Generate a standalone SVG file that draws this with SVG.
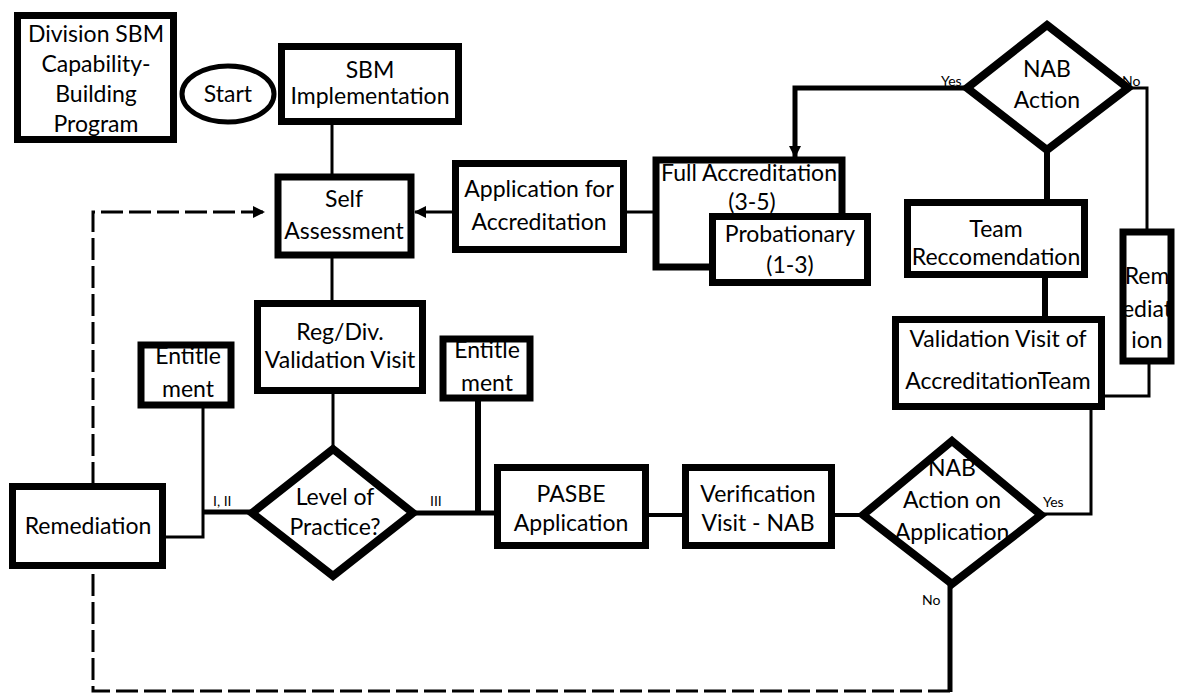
<svg xmlns="http://www.w3.org/2000/svg" width="1179" height="695" viewBox="0 0 1179 695">
<style>
.box{fill:#fff;stroke:#000;stroke-width:7}
.dia{fill:#fff;stroke:#000;stroke-width:8;stroke-linejoin:miter}
.t{font-family:Lato,"Liberation Sans",sans-serif;font-size:23px;fill:#000;text-anchor:middle}
.s{font-family:Lato,"Liberation Sans",sans-serif;font-size:14px;fill:#000}
.c{fill:none;stroke:#000}
</style>
<defs>
<marker id="ah" markerUnits="userSpaceOnUse" markerWidth="12" markerHeight="12" refX="11" refY="6" orient="auto">
<path d="M0,0 L12,6 L0,12 z" fill="#000"/>
</marker>
</defs>
<rect width="1179" height="695" fill="#fff"/>
<g id="connectors">
<polyline class="c" points="950,691 93,691 93,212 264,212" stroke-width="3" stroke-dasharray="22,6" marker-end="url(#ah)"/>
<line class="c" x1="332" y1="125" x2="332" y2="174" stroke-width="3"/>
<line class="c" x1="332" y1="258" x2="332" y2="300" stroke-width="3"/>
<line class="c" x1="333" y1="394" x2="333" y2="449" stroke-width="3"/>
<line class="c" x1="452" y1="212" x2="415" y2="212" stroke-width="3" marker-end="url(#ah)"/>
<line class="c" x1="627" y1="212" x2="653" y2="212" stroke-width="3"/>
<polyline class="c" points="967,88 795,88 795,157" stroke-width="5" marker-end="url(#ah)"/>
<polyline class="c" points="1128,88 1147,88 1147,229" stroke-width="3"/>
<line class="c" x1="1047" y1="150" x2="1047" y2="199" stroke-width="6"/>
<line class="c" x1="1045" y1="278" x2="1045" y2="316" stroke-width="6"/>
<polyline class="c" points="1149,364 1149,396 1105,396" stroke-width="3"/>
<polyline class="c" points="1091,410 1091,514 1041,514" stroke-width="3"/>
<line class="c" x1="835" y1="515" x2="863" y2="515" stroke-width="4"/>
<line class="c" x1="649" y1="515" x2="682" y2="515" stroke-width="4"/>
<line class="c" x1="413" y1="513" x2="494" y2="513" stroke-width="5"/>
<line class="c" x1="478" y1="401" x2="478" y2="515" stroke-width="6"/>
<line class="c" x1="252" y1="512" x2="202" y2="512" stroke-width="5"/>
<polyline class="c" points="203,408 203,537 166,537" stroke-width="3"/>
<line class="c" x1="950" y1="584" x2="950" y2="692" stroke-width="5"/>
<text class="s" x="941" y="86">Yes</text>
<text class="s" x="1122" y="86">No</text>
<text class="s" x="213" y="506">I, II</text>
<text class="s" x="430" y="506">III</text>
<text class="s" x="1043" y="507">Yes</text>
<text class="s" x="922" y="605">No</text>
</g>
<g id="division">
<rect class="box" x="17.5" y="15.5" width="156" height="124"/>
<text class="t" x="96" y="42">Division SBM</text>
<text class="t" x="96" y="72">Capability-</text>
<text class="t" x="96" y="102">Building</text>
<text class="t" x="96" y="132">Program</text>
</g>
<g id="start">
<ellipse cx="228" cy="94" rx="46" ry="28" fill="#fff" stroke="#000" stroke-width="5"/>
<text class="t" x="228" y="102">Start</text>
</g>
<g id="sbm">
<rect class="box" x="281.5" y="46.5" width="177" height="75"/>
<text class="t" x="370" y="78">SBM</text>
<text class="t" x="370" y="104">Implementation</text>
</g>
<g id="self">
<rect class="box" x="278" y="177" width="133" height="78" stroke-width="6"/>
<text class="t" x="344" y="207">Self</text>
<text class="t" x="344" y="239">Assessment</text>
</g>
<g id="application">
<rect class="box" x="455.5" y="163.5" width="168" height="86"/>
<text class="t" x="539" y="197">Application for</text>
<text class="t" x="539" y="230">Accreditation</text>
</g>
<g id="full">
<rect class="box" x="656" y="160" width="186" height="107" stroke-width="6"/>
<text class="t" x="661" y="181" style="text-anchor:start">Full Accreditation</text>
<text class="t" x="752" y="210">(3-5)</text>
</g>
<g id="probationary">
<rect class="box" x="712.5" y="216.5" width="155" height="66"/>
<text class="t" x="790" y="242">Probationary</text>
<text class="t" x="790" y="273">(1-3)</text>
</g>
<g id="nab-action">
<polygon class="dia" points="1047,25 1128,88 1047,150 967,88"/>
<text class="t" x="1047" y="77">NAB</text>
<text class="t" x="1047" y="108">Action</text>
</g>
<g id="team">
<rect class="box" x="907.5" y="202.5" width="177" height="72"/>
<text class="t" x="996" y="237">Team</text>
<text class="t" x="996" y="265">Reccomendation</text>
</g>
<g id="validation-team">
<rect class="box" x="895.5" y="319.5" width="206" height="87"/>
<text class="t" x="998" y="347">Validation Visit of</text>
<text class="t" x="998" y="389">AccreditationTeam</text>
</g>
<g id="remediation-right">
<rect class="box" x="1123" y="232" width="48" height="129" stroke-width="6"/>
<text class="t" x="1147" y="284">Rem</text>
<text class="t" x="1147" y="317">ediat</text>
<text class="t" x="1147" y="348">ion</text>
</g>
<g id="regdiv">
<rect class="box" x="257.5" y="303.5" width="165" height="87"/>
<text class="t" x="340" y="340">Reg/Div.</text>
<text class="t" x="340" y="368">Validation Visit</text>
</g>
<g id="entitlement-left">
<rect class="box" x="141" y="345" width="90" height="60" stroke-width="6"/>
<text class="t" x="188" y="364">Entitle</text>
<text class="t" x="188" y="397">ment</text>
</g>
<g id="entitlement-right">
<rect class="box" x="443" y="339" width="87" height="59" stroke-width="6"/>
<text class="t" x="487" y="358">Entitle</text>
<text class="t" x="487" y="391">ment</text>
</g>
<g id="level">
<polygon class="dia" points="333,449 413,513 333,576 252,513"/>
<text class="t" x="335" y="505">Level of</text>
<text class="t" x="335" y="535">Practice?</text>
</g>
<g id="remediation-left">
<rect class="box" x="12.5" y="486.5" width="150" height="79"/>
<text class="t" x="88" y="534">Remediation</text>
</g>
<g id="pasbe">
<rect class="box" x="497.5" y="467.5" width="148" height="78"/>
<text class="t" x="571" y="502">PASBE</text>
<text class="t" x="571" y="531">Application</text>
</g>
<g id="verification">
<rect class="box" x="685.5" y="467.5" width="146" height="78"/>
<text class="t" x="758" y="502">Verification</text>
<text class="t" x="758" y="531">Visit - NAB</text>
</g>
<g id="nab-application">
<polygon class="dia" points="952,441 1041,515 952,584 863,515"/>
<text class="t" x="952" y="476">NAB</text>
<text class="t" x="952" y="508">Action on</text>
<text class="t" x="952" y="540">Application</text>
</g>
</svg>
